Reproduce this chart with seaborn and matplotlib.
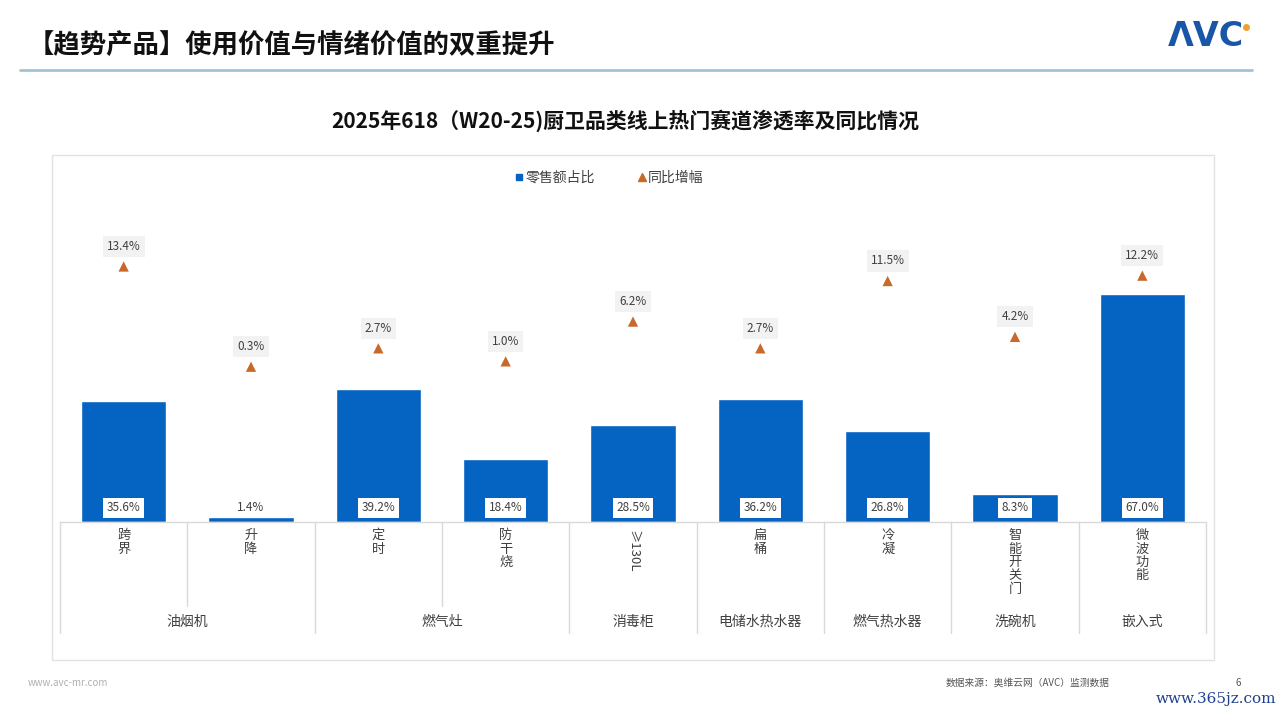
import matplotlib
matplotlib.use("Agg")
import matplotlib.pyplot as plt
from matplotlib.lines import Line2D
from matplotlib.patches import Rectangle
from matplotlib.transforms import blended_transform_factory
import seaborn as sns
import numpy as np
import pandas as pd

# ---------------- data ----------------
groups = ["油烟机", "油烟机", "燃气灶", "燃气灶", "消毒柜", "电储水热水器", "燃气热水器", "洗碗机", "嵌入式"]
subcats = ["跨界", "升降", "定时", "防干烧", "≥130L", "扁桶", "冷凝", "智能开关门", "微波功能"]
share = [35.6, 1.4, 39.2, 18.4, 28.5, 36.2, 26.8, 8.3, 67.0]   # 零售额占比 (%)
yoy = [13.4, 0.3, 2.7, 1.0, 6.2, 2.7, 11.5, 4.2, 12.2]          # 同比增幅 (%)

page_title = "【趋势产品】使用价值与情绪价值的双重提升"
chart_title = "2025年618（W20-25)厨卫品类线上热门赛道渗透率及同比情况"
legend_labels = ["零售额占比", "同比增幅"]
source_text = "数据来源：奥维云网（AVC）监测数据"
site_text = "www.avc-mr.com"
page_no = "6"

# ---------------- style ----------------
sns.set_theme(style="white")
plt.rcParams["font.family"] = ["Noto Sans CJK SC", "DejaVu Sans"]

BLUE = "#0563C1"
ORANGE = "#C8692A"
TXT = "#404040"
LINE = "#D9D9D9"

W, H = 1282, 715
fig = plt.figure(figsize=(W / 100, H / 100), dpi=100)
fig.patch.set_facecolor("white")

def fx(px):
    return px / W

def fy(py):
    return 1 - py / H

# main axes: x 60..1206, y 216..522 (pixels)
ax = fig.add_axes([fx(60), fy(522), fx(1206) - fx(60), fy(216) - fy(522)])
df = pd.DataFrame({"sub": subcats, "share": share})
sns.barplot(data=df, x="sub", y="share", color=BLUE, saturation=1, width=0.67, ax=ax)
ax.set_xlim(-0.5, len(subcats) - 0.5)
ax.set_ylim(0, 90)
ax.set_xticks([])
ax.set_yticks([])
ax.set_xlabel("")
ax.set_ylabel("")
for s in ax.spines.values():
    s.set_visible(False)
ax.patch.set_alpha(0)

ax2 = ax.twinx()
sns.scatterplot(x=np.arange(len(yoy)), y=yoy, marker="^", s=55, color=ORANGE,
                edgecolor="none", ax=ax2, zorder=5)
ax2.set_ylim(-20, 20)
ax2.set_yticks([])
ax2.set_ylabel("")
for s in ax2.spines.values():
    s.set_visible(False)

# bar value labels (white boxes at bar bottom)
for i, v in enumerate(share):
    ax.annotate(f"{v:.1f}%", xy=(i, 0), xytext=(0, 10.2), textcoords="offset points",
                ha="center", va="center", fontsize=8.5, color=TXT,
                bbox=dict(boxstyle="square,pad=0.3", fc="white", ec="none"), zorder=6)

# yoy labels (gray boxes above triangles)
for i, v in enumerate(yoy):
    ax2.annotate(f"{v:.1f}%", xy=(i, v), xytext=(0, 14.5), textcoords="offset points",
                 ha="center", va="center", fontsize=8.5, color=TXT,
                 bbox=dict(boxstyle="square,pad=0.35", fc="#F2F2F2", ec="none"), zorder=6)

# ---------------- multi-level category axis ----------------
tr = blended_transform_factory(ax.transData, fig.transFigure)
n = len(subcats)
ax.plot([-0.5, n - 0.5], [fy(522), fy(522)], transform=tr, color=LINE, lw=1, clip_on=False)
for b in range(n + 1):
    x = b - 0.5
    is_group = b == 0 or b == n or groups[b] != groups[b - 1]
    y_end = 633 if is_group else 606
    ax.plot([x, x], [fy(522), fy(y_end)], transform=tr, color=LINE, lw=1, clip_on=False)

for i, name in enumerate(subcats):
    if name.startswith("≥"):
        ax.text(i, fy(530), name, transform=tr, rotation=-90, ha="center", va="top",
                fontsize=9.5, color=TXT)
    else:
        ax.text(i, fy(529), "\n".join(name), transform=tr, ha="center", va="top",
                fontsize=9.5, color=TXT, linespacing=1.05)

# group labels centred on their spans
start = 0
for i in range(1, n + 1):
    if i == n or groups[i] != groups[start]:
        cx = (start + i - 1) / 2
        ax.text(cx, fy(622), groups[start], transform=tr, ha="center", va="center",
                fontsize=10, color=TXT)
        start = i

# ---------------- page decorations ----------------
fig.patches.append(Rectangle((fx(52), fy(660)), fx(1214) - fx(52), fy(155) - fy(660),
                             transform=fig.transFigure, fill=False, ec="#E3E3E3", lw=1))
fig.lines.append(Line2D([fx(20), fx(1252)], [fy(70), fy(70)], transform=fig.transFigure,
                        color="#A3C2D6", lw=2))
fig.text(fx(28), fy(45), page_title, fontsize=19, fontweight="bold", color="#111111",
         ha="left", va="center")
fig.text(fx(1244), fy(36), "ΛVC", fontsize=24, fontweight="bold", color="#1A56A8",
         ha="right", va="center", family=["DejaVu Sans"])
fig.lines.append(Line2D([fx(1246)], [fy(27)], transform=fig.transFigure, marker="o",
                        markersize=4, color="#F0A030", ls=""))
fig.text(fx(625), fy(121), chart_title, fontsize=15, fontweight="bold", color="#111111",
         ha="center", va="center")

handles = [Line2D([], [], marker="s", ls="", color=BLUE, markersize=4.5),
           Line2D([], [], marker="^", ls="", color=ORANGE, markersize=6)]
fig.legend(handles, legend_labels, loc="center", bbox_to_anchor=(fx(609), fy(178)), ncol=2,
           frameon=False, fontsize=10, handlelength=0.6, handletextpad=0.15,
           columnspacing=3.1, labelcolor=TXT)

fig.text(fx(28), fy(683), site_text, fontsize=7, color="#B0B0B0", ha="left", va="center")
fig.text(fx(1110), fy(683), source_text, fontsize=7, color="#555555", ha="right", va="center")
fig.text(fx(1238), fy(683), page_no, fontsize=7, color="#555555", ha="center", va="center")
fig.text(fx(1276), fy(699), "www.365jz.com", fontsize=11, color="#1F3F8F", ha="right",
         va="center", family=["DejaVu Serif"])

fig.savefig("out.png", dpi=100, facecolor="white")
